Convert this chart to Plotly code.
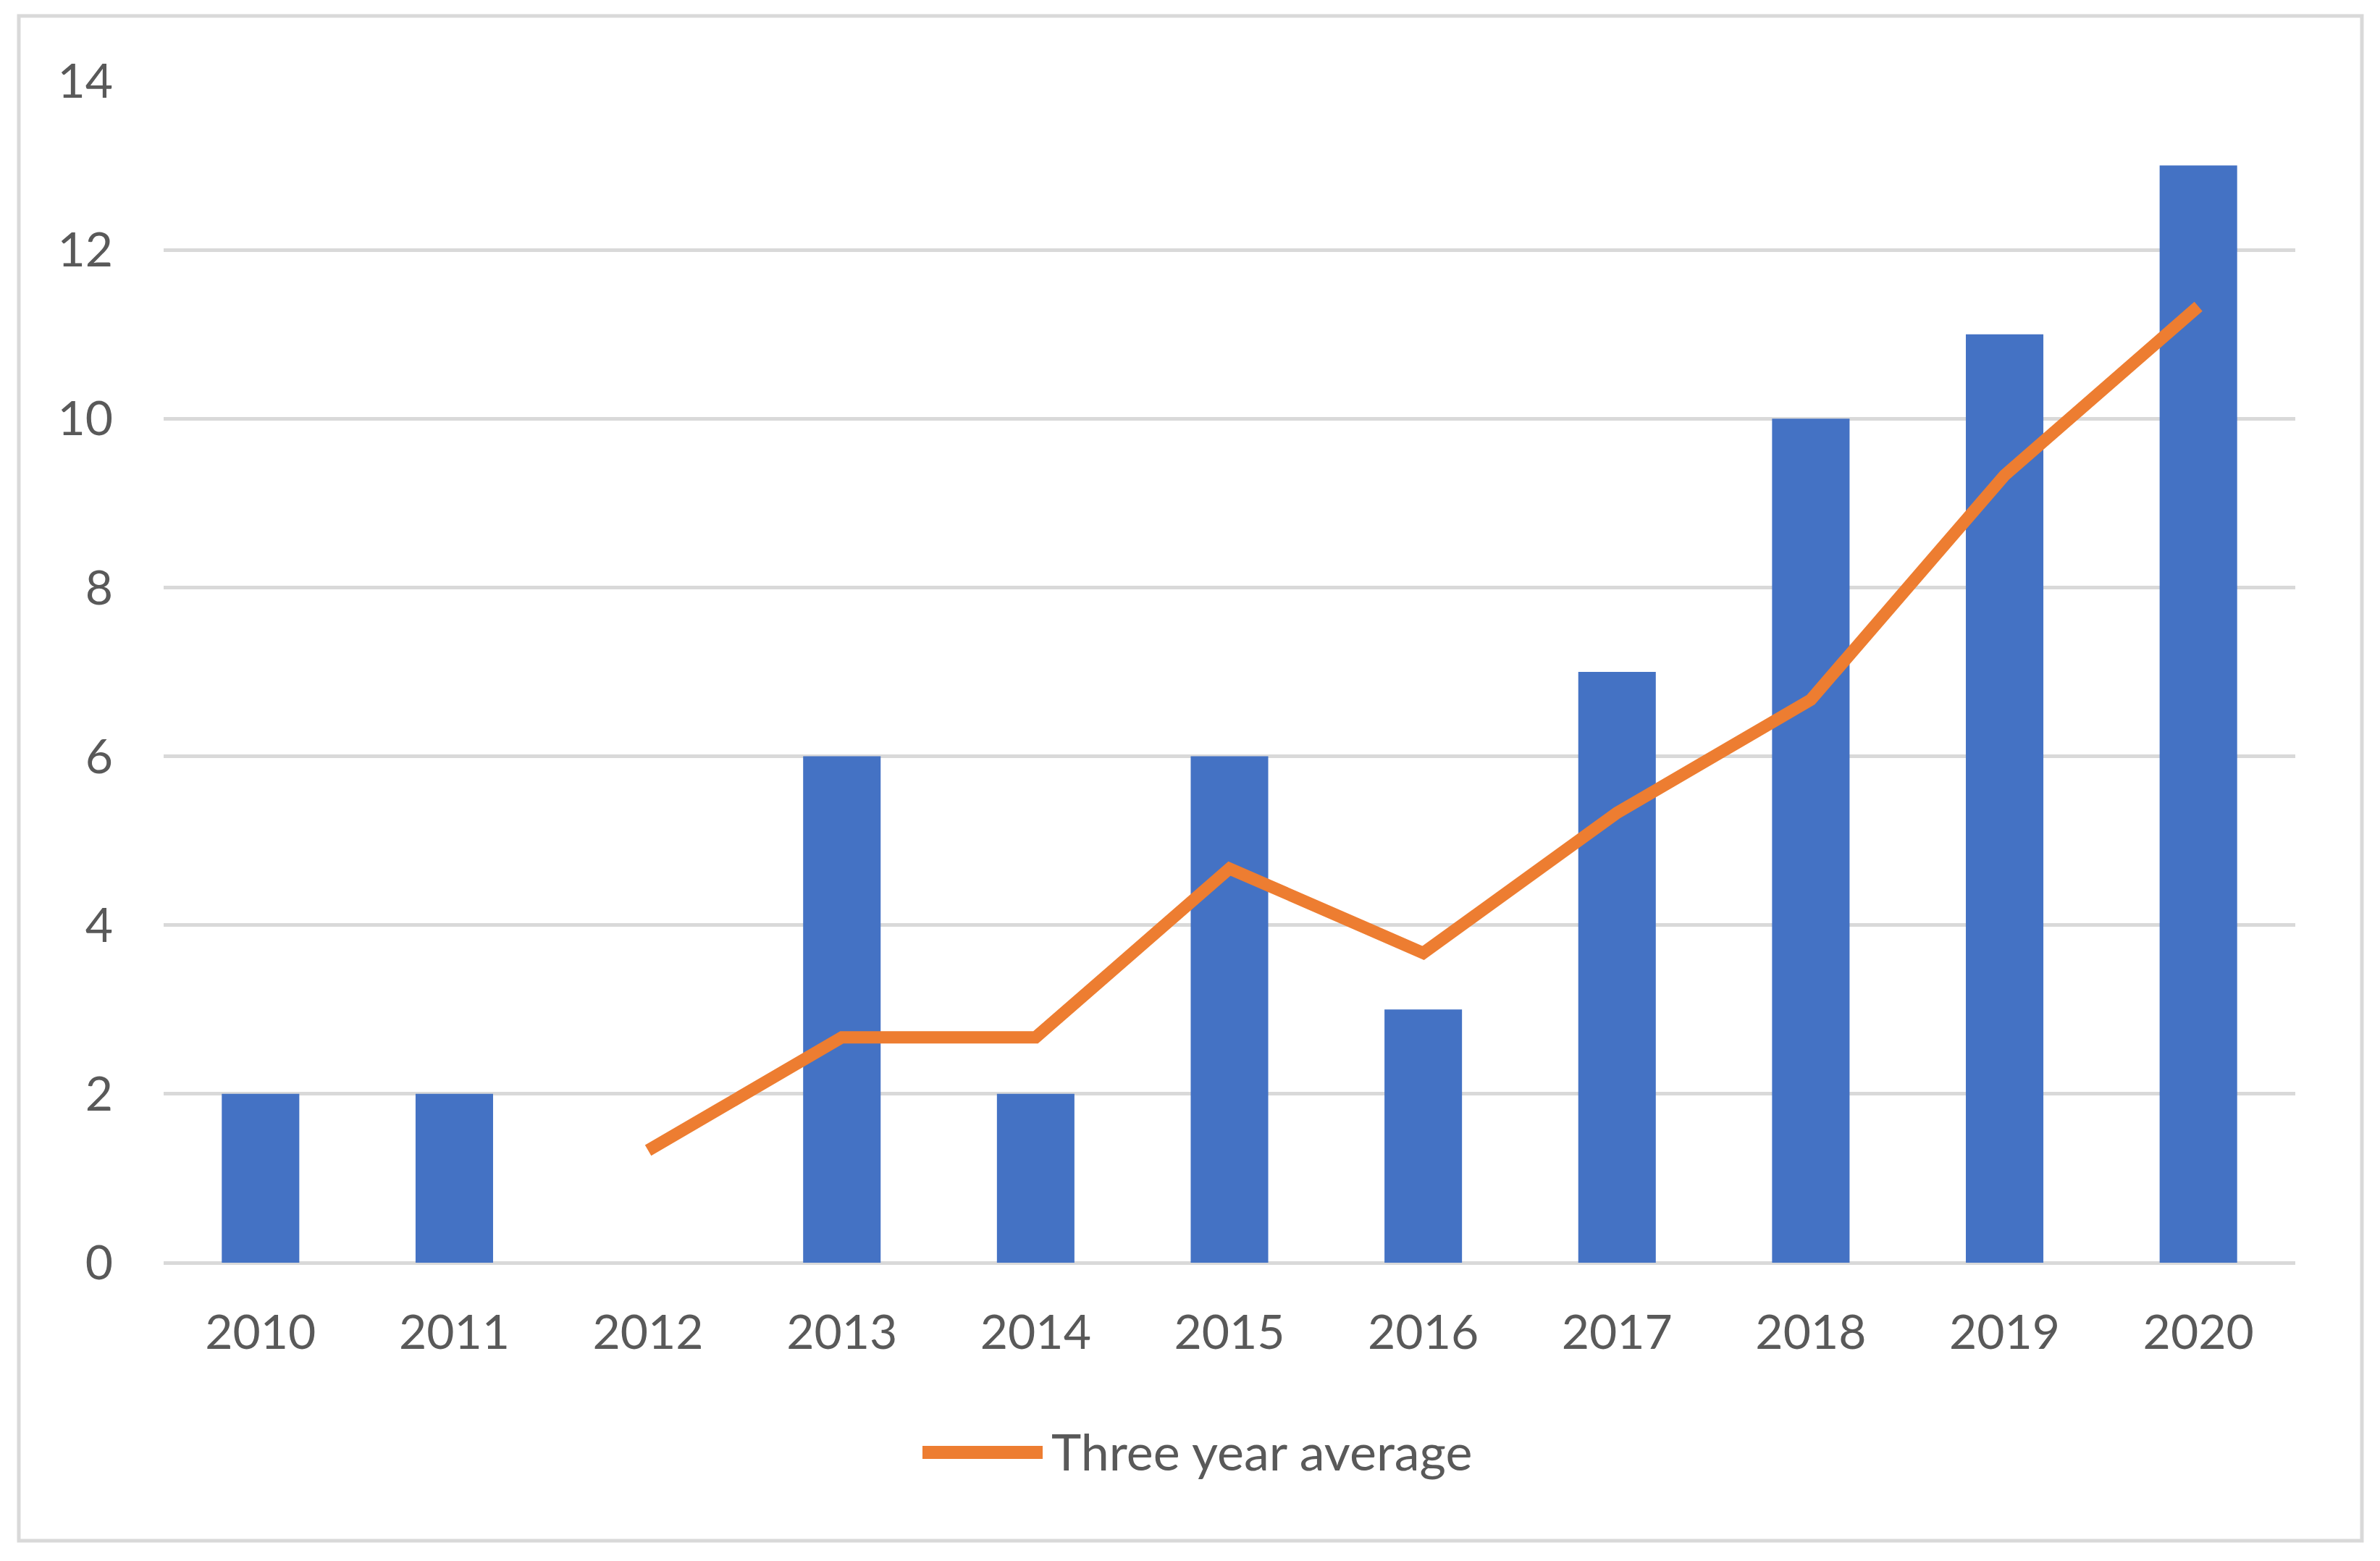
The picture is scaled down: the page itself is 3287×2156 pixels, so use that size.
import plotly.graph_objects as go

years = ["2010", "2011", "2012", "2013", "2014", "2015", "2016", "2017", "2018", "2019", "2020"]
counts = [2, 2, 0, 6, 2, 6, 3, 7, 10, 11, 13]
three_year_avg = [None, None, 1.33, 2.67, 2.67, 4.67, 3.67, 5.33, 6.67, 9.33, 11.33]
y_ticks = [0, 2, 4, 6, 8, 10, 12, 14]
legend_label = "Three year average"

# page has an 8px body margin; work in figure coordinates (page - 8)
OFF = 8
W, H = 3287 - 2 * OFF, 2156 - 2 * OFF
L, T = 226 - OFF, 112 - OFF
R = W - (3170 - OFF)
B = H - (1744 - OFF)
PW, PH = W - L - R, H - T - B

def px_x(p):
    return (p - OFF - L) / PW

def px_y(p):
    return (H - B - (p - OFF)) / PH

FONT = "Lato"
TXT = "#595959"
GRID = "#d9d9d9"
BLUE = "#4472C4"
ORANGE = "#ED7D31"

fig = go.Figure()
fig.add_trace(go.Bar(x=years, y=counts, marker_color=BLUE, marker_line_width=0,
                     name="Count", showlegend=False))
fig.add_trace(go.Scatter(x=years, y=three_year_avg, mode="lines",
                         line=dict(color=ORANGE, width=17), name=legend_label,
                         showlegend=False))

# chart border
fig.add_shape(type="rect", xref="paper", yref="paper",
              x0=px_x(26), x1=px_x(3262), y0=px_y(2128), y1=px_y(22),
              line=dict(color=GRID, width=5), fillcolor="rgba(0,0,0,0)", layer="below")
# legend key
fig.add_shape(type="line", xref="paper", yref="paper",
              x0=px_x(1274), x1=px_x(1440), y0=px_y(2006), y1=px_y(2006),
              line=dict(color=ORANGE, width=18))
fig.add_annotation(xref="paper", yref="paper", x=px_x(1450), y=px_y(2004),
                   xanchor="left", yanchor="middle", showarrow=False,
                   text=legend_label, font=dict(family=FONT, size=70, color=TXT))

fig.update_layout(
    width=W, height=H,
    margin=dict(l=L, r=R, t=T, b=B),
    paper_bgcolor="white", plot_bgcolor="white",
    bargap=0.6,
    showlegend=False,
    font=dict(family=FONT, size=65, color=TXT),
)
fig.update_xaxes(type="category", showgrid=False, showline=False, zeroline=False,
                 ticks="", ticklabelstandoff=52,
                 tickfont=dict(family=FONT, size=66, color=TXT))
fig.update_yaxes(range=[0, 14], tickvals=y_ticks, showgrid=True, gridcolor=GRID,
                 gridwidth=5, zeroline=True, zerolinecolor=GRID, zerolinewidth=5,
                 showline=False, ticks="", ticklabelstandoff=69,
                 tickfont=dict(family=FONT, size=66, color=TXT))

fig.write_html("out.html")
